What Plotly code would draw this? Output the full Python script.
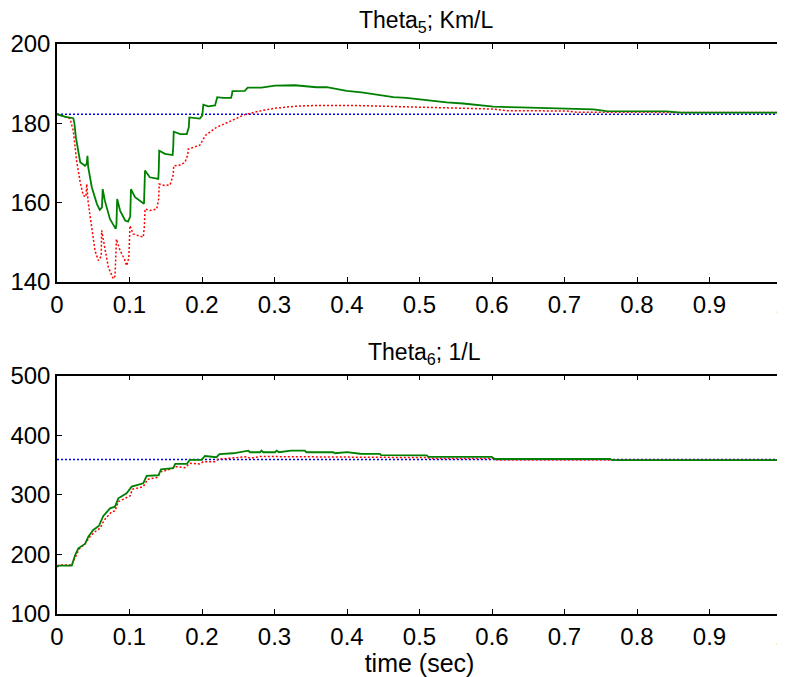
import plotly.graph_objects as go

# Theta5 (Km/L) -- top panel
t5_green = [0, 0.012, 0.0225, 0.024, 0.026, 0.032, 0.0386, 0.041, 0.042, 0.043,
            0.048, 0.055, 0.059, 0.062, 0.063, 0.066, 0.073, 0.081, 0.082, 0.083,
            0.087, 0.094, 0.098, 0.101, 0.102, 0.1076, 0.12, 0.1205, 0.1214, 0.128,
            0.1397, 0.1403, 0.141, 0.149, 0.1595, 0.1603, 0.161, 0.17, 0.179, 0.1818,
            0.1825, 0.197, 0.2005, 0.2018, 0.2087, 0.218, 0.2195, 0.221, 0.229, 0.24,
            0.2412, 0.242, 0.259, 0.263, 0.282, 0.3007, 0.328, 0.358, 0.372, 0.3996,
            0.42, 0.4455, 0.464, 0.482, 0.505, 0.5375, 0.56, 0.579, 0.602, 0.639,
            0.68, 0.74, 0.758, 0.841, 0.86, 1.0]
v5_green = [182.3, 181.6, 181.3, 180.0, 176.5, 170.2, 169.3, 169.8, 171.8, 169.0,
            163.9, 159.7, 158.2, 158.8, 163.4, 160.5, 155.9, 153.4, 154.5, 160.9,
            158.0, 155.5, 155.2, 156.5, 163.4, 161.4, 159.7, 162.0, 168.1, 166.4,
            166.0, 168.0, 173.1, 172.3, 172.0, 174.0, 177.9, 177.3, 177.3, 179.0,
            181.5, 181.2, 182.0, 184.7, 184.3, 184.5, 185.5, 186.6, 186.4, 186.4,
            187.2, 188.1, 188.2, 189.0, 189.0, 189.5, 189.6, 189.1, 189.1, 188.2,
            187.8, 187.2, 186.6, 186.4, 185.9, 185.3, 185.0, 184.7, 184.2, 184.0,
            183.8, 183.5, 183.1, 183.0, 182.7, 182.7]

t5_red = [0, 0.018, 0.0225, 0.027, 0.032, 0.0363, 0.040, 0.041, 0.043, 0.048,
          0.0524, 0.057, 0.061, 0.0616, 0.065, 0.0708, 0.0777, 0.080, 0.081, 0.082,
          0.087, 0.093, 0.096, 0.099, 0.1007, 0.105, 0.119, 0.1205, 0.1214, 0.128,
          0.1375, 0.1403, 0.141, 0.149, 0.156, 0.1603, 0.161, 0.17, 0.1766, 0.1803,
          0.181, 0.197, 0.205, 0.22, 0.241, 0.259, 0.282, 0.3007, 0.328, 0.356,
          0.41, 0.473, 0.5375, 0.602, 0.62, 0.703, 0.717, 1.0]
v5_red = [182.3, 181.2, 178.1, 170.6, 165.1, 161.8, 161.5, 164.7, 160.1, 152.9,
          147.9, 145.4, 146.5, 153.0, 149.6, 143.7, 140.8, 141.5, 146.0, 150.8,
          147.9, 145.8, 144.1, 146.0, 154.2, 152.1, 151.3, 154.0, 158.4, 158.0,
          158.4, 161.0, 164.7, 164.3, 164.5, 167.0, 169.3, 169.5, 170.2, 172.0,
          173.5, 174.5, 177.0, 179.0, 180.7, 182.2, 183.2, 183.8, 184.3, 184.5,
          184.5, 184.2, 183.8, 183.6, 183.2, 183.1, 182.8, 182.7]

t5_ref = [0, 1]
v5_ref = [182.3, 182.3]

# Theta6 (1/L) -- bottom panel
t6_green = [0, 0.003, 0.0203, 0.025, 0.0294, 0.0386, 0.0432, 0.05, 0.0577, 0.0639,
            0.0731, 0.08, 0.0846, 0.096, 0.103, 0.119, 0.1237, 0.14, 0.1435, 0.1604,
            0.163, 0.179, 0.183, 0.1995, 0.204, 0.22, 0.224, 0.243, 0.264, 0.266,
            0.28, 0.282, 0.2845, 0.3007, 0.303, 0.306, 0.323, 0.342, 0.344, 0.381,
            0.3834, 0.40, 0.418, 0.4455, 0.447, 0.51, 0.512, 0.5995, 0.604, 0.763,
            0.766, 1.0]
v6_green = [179.4, 181, 181, 199, 210.2, 217.4, 229.7, 241, 247.6, 264.4,
            277.3, 280, 294, 302.5, 313.6, 319.3, 331.5, 332.7, 342.8, 344.5,
            351.7, 351.7, 358.4, 358.4, 365, 363, 368, 369.6, 374, 371.3,
            371.3, 374, 371.3, 371.3, 374, 371.3, 374, 374, 371.3, 371.3,
            369.6, 371.5, 368.8, 368.5, 366.3, 366.2, 363.4, 363.4, 360, 360,
            358, 358]

t6_red = [0, 0.003, 0.0203, 0.025, 0.0303, 0.0414, 0.0432, 0.0524, 0.0593, 0.0653,
          0.0755, 0.08, 0.0846, 0.1007, 0.1039, 0.119, 0.125, 0.1375, 0.1435, 0.146,
          0.1649, 0.1765, 0.1834, 0.197, 0.2018, 0.218, 0.2225, 0.2386, 0.2616, 0.2662,
          0.28, 0.3, 0.38, 0.3855, 0.418, 0.51, 0.515, 0.6, 0.607, 1.0]
v6_red = [181, 182, 182, 196, 208.6, 221.3, 227, 238, 243.8, 257.7,
          271.6, 272.8, 288.4, 298, 309.2, 313.6, 326, 328.7, 338.8, 338.8,
          347.1, 345.5, 352.8, 351.7, 355.5, 355.5, 359.6, 361.3, 363.9, 361.3,
          364, 364, 364, 363, 363, 362.3, 361, 361, 358.5, 358.5]

t6_ref = [0, 1]
v6_ref = [359, 359]

# tick labels
time_ticks = [0, 0.1, 0.2, 0.3, 0.4, 0.5, 0.6, 0.7, 0.8, 0.9, 1]
time_labels = ["0", "0.1", "0.2", "0.3", "0.4", "0.5", "0.6", "0.7", "0.8", "0.9", "1"]
theta5_ticks = [140, 160, 180, 200]
theta6_ticks = [100, 200, 300, 400, 500]

FONT = "Arial, Liberation Sans, sans-serif"

fig = go.Figure()

for xa, ya, t_ref, v_ref, t_r, v_r, t_g, v_g in [
    ("x", "y", t5_ref, v5_ref, t5_red, v5_red, t5_green, v5_green),
    ("x2", "y2", t6_ref, v6_ref, t6_red, v6_red, t6_green, v6_green),
]:
    fig.add_trace(go.Scatter(x=t_ref, y=v_ref, mode="lines", xaxis=xa, yaxis=ya,
                             line=dict(color="#0000ff", width=1.5, dash="2px,2px")))
    fig.add_trace(go.Scatter(x=t_r, y=v_r, mode="lines", xaxis=xa, yaxis=ya,
                             line=dict(color="#ff0000", width=1.5, dash="2px,2px")))
    fig.add_trace(go.Scatter(x=t_g, y=v_g, mode="lines", xaxis=xa, yaxis=ya,
                             line=dict(color="#008000", width=1.8)))

axis_style = dict(showgrid=False, zeroline=False, showline=True, linecolor="black",
                  linewidth=1.5, mirror="ticks", ticks="inside", ticklen=5,
                  tickcolor="black", automargin=False, ticklabeloverflow="allow",
                  tickfont=dict(family=FONT, size=24, color="black"))

x_ticks = dict(tickmode="array", tickvals=time_ticks, ticktext=time_labels)

# page body adds an 8px offset; the figure is shifted to compensate
fig.update_layout(
    width=785, height=669,
    margin=dict(l=49, r=11, t=36, b=63),
    paper_bgcolor="white", plot_bgcolor="white",
    showlegend=False,
    font=dict(family=FONT, color="black"),
    xaxis=dict(domain=[0, 1], range=[0, 1], anchor="y", **x_ticks, **axis_style),
    yaxis=dict(domain=[0.5825, 1.0], range=[140, 200], tickmode="array",
               tickvals=theta5_ticks, anchor="x", **axis_style),
    xaxis2=dict(domain=[0, 1], range=[0, 1], anchor="y2", **x_ticks,
                title=dict(text="time (sec)", font=dict(family=FONT, size=25), standoff=2),
                **axis_style),
    yaxis2=dict(domain=[0, 0.4184], range=[100, 500], tickmode="array",
                tickvals=theta6_ticks, anchor="x2", **axis_style),
    annotations=[
        dict(text="Theta<sub>5</sub>; Km/L", x=0.5, y=1.0, xref="paper", yref="paper",
             xanchor="center", yanchor="bottom", yshift=6, xshift=6, showarrow=False,
             font=dict(family=FONT, size=23, color="black")),
        dict(text="Theta<sub>6</sub>; 1/L", x=0.5, y=0.4184, xref="paper", yref="paper",
             xanchor="center", yanchor="bottom", yshift=6, xshift=5, showarrow=False,
             font=dict(family=FONT, size=23, color="black")),
    ],
)

fig.write_html("out.html")
